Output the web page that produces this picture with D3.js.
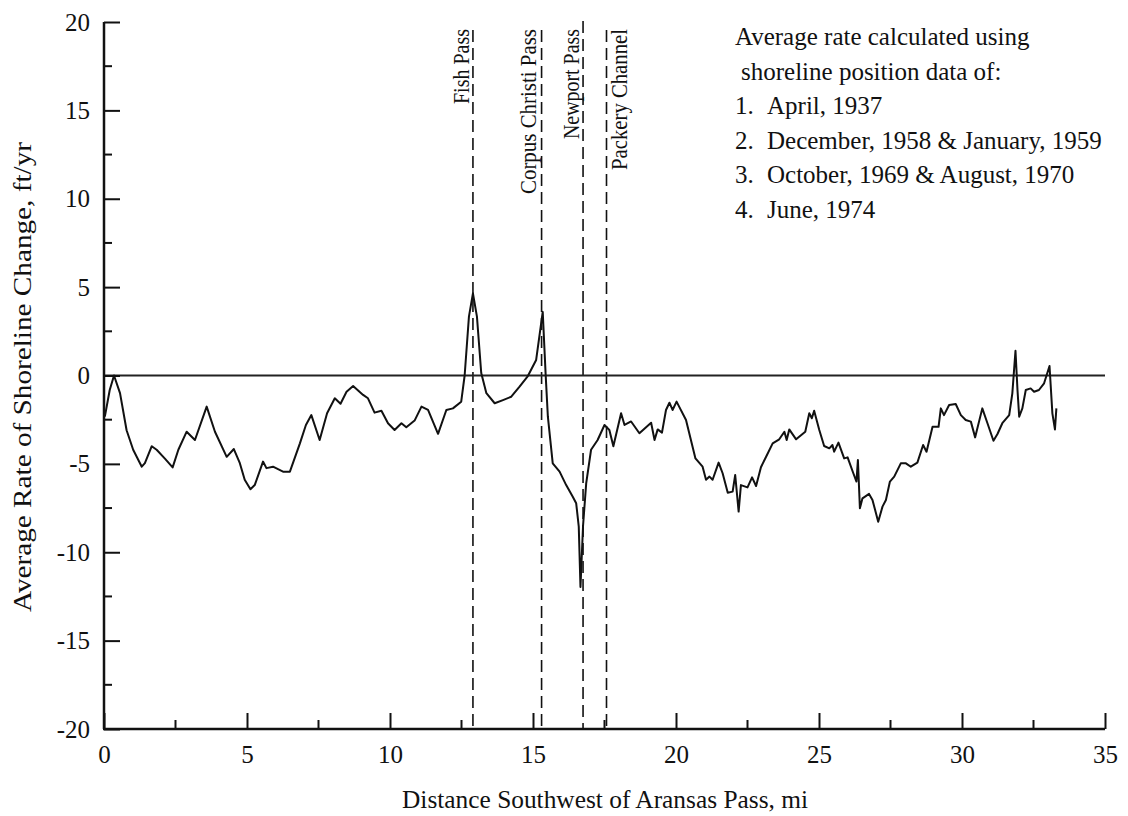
<!DOCTYPE html>
<html><head><meta charset="utf-8">
<script src="https://cdn.jsdelivr.net/npm/d3@7"></script>
<style>
html,body{margin:0;padding:0;background:#fff;}
</style></head>
<body><svg id="chart" width="1128" height="816" font-family="'Liberation Serif', 'Times New Roman', Times, serif"></svg>
<script>
const distance = [0.03,0.2,0.35,0.56,0.79,1.02,1.32,1.43,1.67,1.84,2.13,2.4,2.6,2.89,3.18,3.59,3.88,4.29,4.54,4.75,4.92,5.12,5.27,5.56,5.68,5.91,6.26,6.5,6.85,7.06,7.25,7.54,7.8,8.07,8.27,8.48,8.71,9.06,9.23,9.46,9.7,9.93,10.16,10.4,10.57,10.86,11.1,11.33,11.68,11.97,12.2,12.49,12.61,12.76,12.9,13.04,13.19,13.37,13.66,13.95,14.24,14.53,14.82,15.11,15.34,15.44,15.52,15.69,15.93,16.16,16.39,16.51,16.6,16.66,16.75,16.86,17.03,17.26,17.5,17.67,17.81,18.08,18.2,18.43,18.72,19.13,19.25,19.36,19.51,19.65,19.77,19.88,20.02,20.35,20.68,20.93,21.05,21.17,21.28,21.49,21.63,21.81,21.98,22.07,22.19,22.27,22.5,22.66,22.8,22.97,23.15,23.38,23.61,23.79,23.87,23.96,24.2,24.52,24.66,24.75,24.83,25.01,25.18,25.36,25.47,25.53,25.68,25.88,26.0,26.2,26.31,26.36,26.43,26.52,26.75,26.87,27.07,27.22,27.34,27.48,27.63,27.86,28.04,28.21,28.44,28.64,28.76,28.97,29.18,29.26,29.37,29.55,29.78,29.96,30.13,30.31,30.46,30.71,30.89,31.1,31.24,31.41,31.65,31.76,31.87,31.94,32.0,32.11,32.23,32.4,32.52,32.69,32.87,33.06,33.16,33.25,33.3];
const rate = [-2.33,-0.82,0.0,-1.0,-3.1,-4.2,-5.16,-4.96,-4.0,-4.2,-4.7,-5.2,-4.2,-3.18,-3.65,-1.76,-3.18,-4.6,-4.16,-4.96,-5.9,-6.43,-6.2,-4.87,-5.24,-5.16,-5.44,-5.44,-3.84,-2.8,-2.24,-3.65,-2.14,-1.29,-1.6,-0.92,-0.6,-1.1,-1.29,-2.1,-1.99,-2.7,-3.08,-2.7,-2.93,-2.55,-1.76,-1.95,-3.3,-1.95,-1.86,-1.48,0.0,3.33,4.65,3.33,0.14,-1.0,-1.57,-1.39,-1.2,-0.63,-0.03,0.88,3.6,0.12,-2.33,-4.97,-5.44,-6.2,-6.86,-7.23,-8.55,-11.96,-8.5,-6.1,-4.2,-3.65,-2.8,-3.08,-4.0,-2.14,-2.8,-2.6,-3.27,-2.67,-3.65,-3.05,-3.23,-1.95,-1.54,-1.95,-1.48,-2.52,-4.69,-5.16,-5.9,-5.72,-5.9,-4.93,-5.53,-6.63,-6.57,-5.63,-7.7,-6.2,-6.33,-5.76,-6.25,-5.19,-4.6,-3.84,-3.61,-3.18,-3.65,-3.05,-3.61,-3.18,-2.14,-2.42,-1.99,-3.08,-3.99,-4.12,-3.93,-4.31,-3.8,-4.69,-4.63,-5.53,-6.0,-4.78,-7.51,-6.95,-6.7,-7.04,-8.27,-7.42,-7.04,-6.0,-5.72,-4.97,-4.97,-5.16,-4.93,-3.93,-4.31,-2.9,-2.9,-1.86,-2.24,-1.67,-1.61,-2.24,-2.52,-2.61,-3.5,-1.86,-2.7,-3.69,-3.31,-2.7,-2.24,-1.01,1.40,-0.82,-2.33,-1.86,-0.82,-0.73,-0.92,-0.82,-0.44,0.54,-2.14,-3.05,-1.86];
const xTicks = [0,5,10,15,20,25,30,35];
const xMinorTicks = [2.5,7.5,12.5,17.5,22.5,27.5,32.5];
const yTicks = [20,15,10,5,0,-5,-10,-15,-20];
const yMinorTicks = [17.5,12.5,7.5,2.5,-2.5,-7.5,-12.5,-17.5];
const passNames = ["Fish Pass","Corpus Christi Pass","Newport Pass","Packery Channel"];
const passDistance = [12.9,15.3,16.75,17.57];
const legendTitle = ["Average rate calculated using","shoreline position data of:"];
const legendNums = ["1.","2.","3.","4."];
const legendItems = ["April, 1937","December, 1958 & January, 1959","October, 1969 & August, 1970","June, 1974"];
const xTitle = "Distance Southwest of Aransas Pass, mi";
const yTitle = "Average Rate of Shoreline Change, ft/yr";

const FONT = "'Liberation Serif', 'Times New Roman', Times, serif";
const INK = "#111";
const svg = d3.select("#chart");
const x = d3.scaleLinear().domain([0,35]).range([104,1105]);
const y = d3.scaleLinear().domain([-20,20]).range([729,22]);
const fmt = d => String(d);
function txt(sel){ return sel.style("font-family",FONT).attr("fill",INK); }

// passes (dashed)
const passTop = [30,30,21,30];
const passLabelOffset = [-3.5,-6,-4,20];
const passLabelLen = [75,165,110,141];
passDistance.forEach((d,i)=>{
  svg.append("line").attr("x1",x(d)).attr("x2",x(d)).attr("y1",passTop[i]).attr("y2",y(-20))
    .attr("stroke",INK).attr("stroke-width",1.6).attr("stroke-dasharray","12,6");
  const lx = x(d)+passLabelOffset[i], ly = 29;
  txt(svg.append("text")).attr("transform",`translate(${lx},${ly}) rotate(-90)`)
    .attr("text-anchor","end").attr("font-size",24)
    .attr("textLength",passLabelLen[i]).attr("lengthAdjust","spacingAndGlyphs")
    .text(passNames[i]);
});

// zero line
svg.append("line").attr("x1",x(0)).attr("x2",x(35)).attr("y1",y(0)).attr("y2",y(0))
  .attr("stroke","#222").attr("stroke-width",2);

// data line
const pts = distance.map((d,i)=>[d,rate[i]]);
svg.append("path").datum(pts)
  .attr("fill","none").attr("stroke",INK).attr("stroke-width",2).attr("stroke-linejoin","round")
  .attr("d", d3.line().x(d=>x(d[0])).y(d=>y(d[1])));

// axes
const gx = svg.append("g").attr("transform",`translate(0,${y(-20)})`)
  .call(d3.axisBottom(x).tickValues(xTicks).tickSize(-16).tickFormat(fmt).tickPadding(0));
gx.attr("font-family",null).attr("font-size",null);
gx.selectAll(".tick line").attr("stroke",INK).attr("stroke-width",2);
txt(gx.selectAll(".tick text")).attr("font-size",25).attr("dy",null).attr("y",34);
gx.selectAll(".minor").data(xMinorTicks).enter().append("line")
  .attr("x1",d=>x(d)).attr("x2",d=>x(d)).attr("y1",0).attr("y2",-9).attr("stroke",INK).attr("stroke-width",2);

const gy = svg.append("g").attr("transform",`translate(${x(0)},0)`)
  .call(d3.axisLeft(y).tickValues(yTicks).tickSize(-16).tickFormat(fmt).tickPadding(14));
gy.attr("font-family",null).attr("font-size",null);
gy.selectAll(".tick line").attr("stroke",INK).attr("stroke-width",2);
txt(gy.selectAll(".tick text")).attr("font-size",25);
gy.selectAll(".minor").data(yMinorTicks).enter().append("line")
  .attr("x1",0).attr("x2",8).attr("y1",d=>y(d)).attr("y2",d=>y(d)).attr("stroke",INK).attr("stroke-width",2);
svg.selectAll(".domain").remove();
svg.append("line").attr("x1",x(0)).attr("x2",x(0)).attr("y1",y(20)).attr("y2",y(-20)).attr("stroke",INK).attr("stroke-width",2.5);
svg.append("line").attr("x1",x(0)-1).attr("x2",x(35)).attr("y1",y(-20)).attr("y2",y(-20)).attr("stroke",INK).attr("stroke-width",2.5);

// titles
txt(svg.append("text")).attr("x",605).attr("y",808).attr("text-anchor","middle").attr("font-size",25)
  .attr("textLength",406).attr("lengthAdjust","spacingAndGlyphs").text(xTitle);
txt(svg.append("text")).attr("transform",`translate(31,377) rotate(-90)`).attr("text-anchor","middle").attr("font-size",26)
  .attr("textLength",470).attr("lengthAdjust","spacingAndGlyphs").text(yTitle);

// legend
const lg = svg.append("g");
const baseY = 45, step = 34.6;
legendTitle.forEach((t,i)=>{
  txt(lg.append("text")).attr("x",i===0?735:741).attr("y",baseY+i*step).attr("font-size",25).text(t);
});
legendItems.forEach((t,i)=>{
  txt(lg.append("text")).attr("x",735).attr("y",baseY+(i+2)*step).attr("font-size",25).text(legendNums[i]);
  txt(lg.append("text")).attr("x",767).attr("y",baseY+(i+2)*step).attr("font-size",25).text(t);
});
</script></body></html>
